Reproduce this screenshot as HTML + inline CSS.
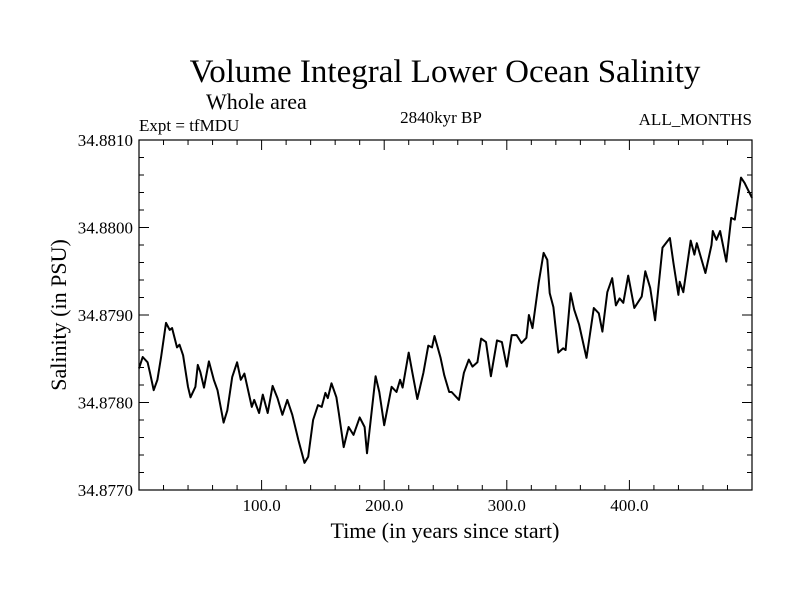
<!DOCTYPE html>
<html><head><meta charset="utf-8"><style>
body{margin:0;background:#fff}
svg{display:block}
text{font-family:"Liberation Serif",serif;fill:#000}
</style></head><body>
<svg id="chart" width="800" height="600">
<text x="445" y="82" font-size="33" text-anchor="middle">Volume Integral Lower Ocean Salinity</text>
<text x="206" y="109" font-size="22">Whole area</text>
<text x="139" y="131" font-size="17">Expt = tfMDU</text>
<text x="441" y="123" font-size="17" text-anchor="middle">2840kyr BP</text>
<text x="752" y="125" font-size="17" text-anchor="end">ALL_MONTHS</text>
<text x="445" y="538" font-size="22" text-anchor="middle">Time (in years since start)</text>
<text transform="translate(66,315) rotate(-90)" font-size="22" text-anchor="middle">Salinity (in PSU)</text>
<g id="axes"></g>
<path id="series" fill="none" stroke="#000" stroke-width="2" stroke-linejoin="round"/>
<rect x="139" y="140" width="613" height="350" fill="none" stroke="#000" stroke-width="1.2"/>
</svg>
<script>
const years=[0,3,7,9,12,15,18,22,25,27,31,33,36,40,42,46,48,50,53,57,61,64,69,72,76,80,83,86,92,94,98,101,105,109,113,117,121,125,130,135,138,142,146,149,152,154,157,161,163,167,171,175,180,184,186,193,196,200,206,210,213,215,220,223,227,232,236,239,241,246,249,253,255,261,265,269,272,276,279,283,287,292,296,300,304,308,312,316,318,321,326,330,333,335,338,342,346,348,352,355,359,365,371,375,378,382,386,389,392,395,399,404,410,413,417,421,427,433,436,440,441,444,450,453,455,462,467,468,471,474,479,483,486,488,491,494,496,500];
const salinity=[34.87839,34.87852,34.87846,34.87834,34.87814,34.87826,34.87852,34.87891,34.87883,34.87885,34.87863,34.87866,34.87854,34.87818,34.87806,34.87818,34.87843,34.87835,34.87817,34.87847,34.87826,34.87814,34.87777,34.87791,34.87829,34.87846,34.87826,34.87833,34.87795,34.87803,34.87788,34.87809,34.87788,34.87819,34.87805,34.87786,34.87803,34.87786,34.87757,34.87731,34.87738,34.87780,34.87797,34.87795,34.87811,34.87805,34.87822,34.87806,34.87788,34.87749,34.87772,34.87763,34.87783,34.87772,34.87742,34.87830,34.87812,34.87774,34.87818,34.87812,34.87826,34.87817,34.87857,34.87834,34.87804,34.87834,34.87865,34.87863,34.87876,34.87851,34.87831,34.87812,34.87812,34.87803,34.87834,34.87849,34.87841,34.87846,34.87873,34.87869,34.87830,34.87871,34.87869,34.87841,34.87877,34.87877,34.87868,34.87874,34.87900,34.87885,34.87937,34.87971,34.87963,34.87925,34.87909,34.87857,34.87862,34.87860,34.87925,34.87906,34.87889,34.87851,34.87908,34.87902,34.87881,34.87926,34.87942,34.87911,34.87919,34.87914,34.87945,34.87908,34.87921,34.87950,34.87931,34.87894,34.87977,34.87988,34.87959,34.87923,34.87938,34.87926,34.87985,34.87969,34.87982,34.87948,34.87980,34.87996,34.87986,34.87996,34.87961,34.88011,34.88009,34.88029,34.88057,34.88051,34.88045,34.88034];
const xTickValues=[100,200,300,400];
const xTickLabels=["100.0","200.0","300.0","400.0"];
const yTickValues=[34.877,34.878,34.879,34.880,34.881];
const yTickLabels=["34.8770","34.8780","34.8790","34.8800","34.8810"];
const X0=139,X1=752,Y0=490,Y1=140,XMIN=0,XMAX=500,YMIN=34.877,YMAX=34.881;
function sx(v){return X0+(v-XMIN)/(XMAX-XMIN)*(X1-X0);}
function sy(v){return Y0-(v-YMIN)/(YMAX-YMIN)*(Y0-Y1);}
const NS="http://www.w3.org/2000/svg";
const axes=document.getElementById('axes');
function line(x1,y1,x2,y2,name){const l=document.createElementNS(NS,'line');l.setAttribute('x1',x1);l.setAttribute('y1',y1);l.setAttribute('x2',x2);l.setAttribute('y2',y2);l.setAttribute('stroke','#000');l.setAttribute('stroke-width','1');


axes.appendChild(l);}
function label(x,y,t,anchor,name){const e=document.createElementNS(NS,'text');e.setAttribute('x',x);e.setAttribute('y',y);e.setAttribute('font-size','17');e.setAttribute('text-anchor',anchor);e.textContent=t;


axes.appendChild(e);}
for(let v=20;v<XMAX;v+=20){const x=sx(v);const maj=v%100===0;const L=maj?10:5;line(x,Y0,x,Y0-L,'x-tick');line(x,Y1,x,Y1+L,'x-tick-top');}
for(let i=0;i<=20;i++){const v=YMIN+i*0.0002;const y=sy(v);const maj=i%5===0;const L=maj?10:5;line(X0,y,X0+L,y,'y-tick');line(X1,y,X1-L,y,'y-tick-right');}
xTickValues.forEach((v,i)=>label(sx(v),511,xTickLabels[i],'middle','x-tick-label'));
yTickValues.forEach((v,i)=>label(X0-6,sy(v)+6,yTickLabels[i],'end','y-tick-label'));
document.getElementById('series').setAttribute('d',years.map((t,i)=>(i?'L':'M')+sx(t).toFixed(1)+','+sy(salinity[i]).toFixed(1)).join(''));
</script>
</body></html>
